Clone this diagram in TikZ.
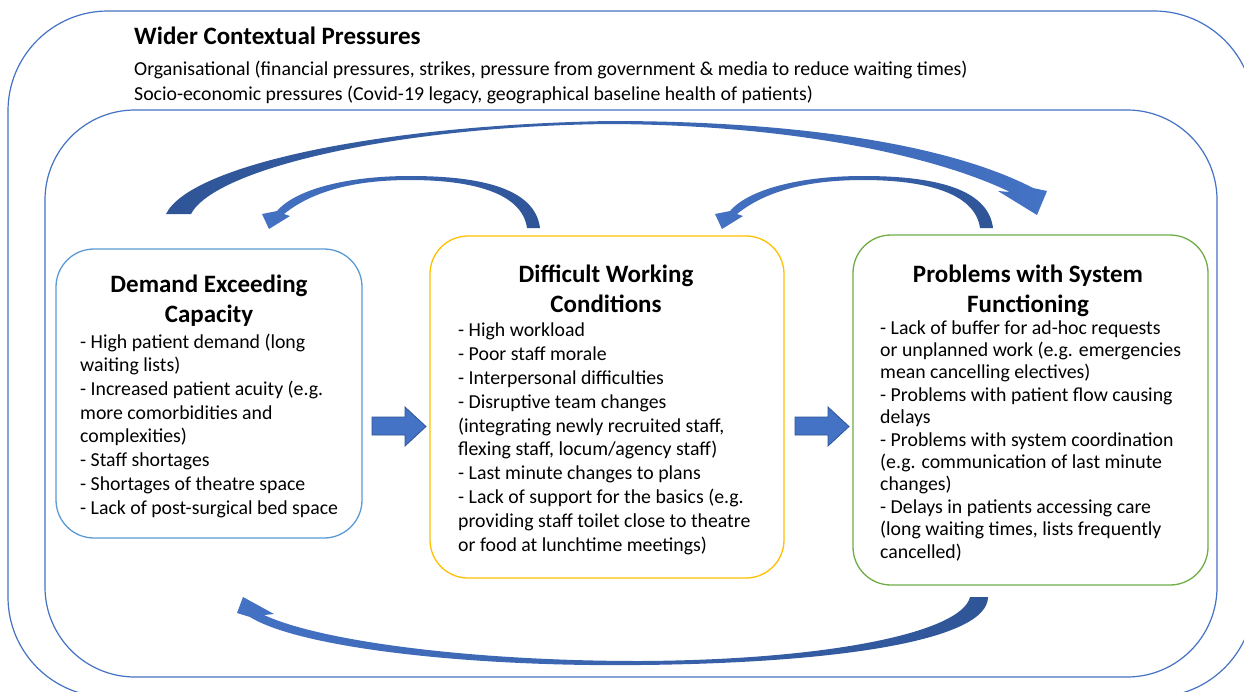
\documentclass[tikz,border=0pt]{standalone}
\usepackage{fontspec}
\setmainfont{Carlito}
\definecolor{frame}{HTML}{4472C4}
\definecolor{adark}{HTML}{2F5597}
\definecolor{alight}{HTML}{4472C4}
\definecolor{boxblue}{HTML}{5B9BD5}
\definecolor{boxyellow}{HTML}{FFC000}
\definecolor{boxgreen}{HTML}{70AD47}
\begin{document}
\begin{tikzpicture}[x=1pt,y=-1pt,
  frameline/.style={draw=frame, line width=1.2pt},
  boxline/.style={line width=1.3pt, rounded corners=38pt, rectangle, inner sep=0pt},
  headtext/.style={font=\fontsize{25}{30.5}\selectfont\bfseries, align=center, inner sep=0pt, anchor=base},
  bodytext/.style={font=\fontsize{19.8}{23.7}\selectfont, align=left, inner sep=0pt, anchor=base west},
  blockarrow/.style={fill=alight, draw=adark, line width=0.8pt, line join=miter},
]
\useasboundingbox (0,0) rectangle (1244,691);
\fill[white] (0,0) rectangle (1244,691);

% frames
\draw[frameline, rounded corners=100pt] (8,11) rectangle (1254,697);
\draw[frameline, rounded corners=90pt] (45,110) rectangle (1217,677);

% title block
\node[font=\fontsize{25}{30}\selectfont\bfseries, inner sep=0pt, anchor=base west] (title) at (134,44) {Wider Contextual Pressures};
\node[bodytext] (org) at (134,75) {Organisational (financial pressures, strikes, pressure from government \& media to reduce waiting times)};
\node[bodytext] (soc) at (134,100) {Socio-economic pressures (Covid-19 legacy, geographical baseline health of patients)};

% boxes
\node[draw=boxblue, boxline, minimum width=306pt, minimum height=289pt] (dec) at (209,393.5) {};
\node[draw=boxyellow, boxline, minimum width=354pt, minimum height=342pt] (dwc) at (607,407) {};
\node[draw=boxgreen, boxline, minimum width=355pt, minimum height=350pt] (psf) at (1030.5,410) {};

% headings (anchor = baseline of last line)
\node[headtext] (dech) at (209,322.5) {Demand Exceeding\\Capacity};
\node[headtext] (dwch) at (606,312.5) {Difficult Working\\Conditions};
\node[headtext] (psfh) at (1028,312.5) {Problems with System\\Functioning};

% bodies (anchor = baseline of last line)
\node[bodytext] (decb) at (80,514) {- High patient demand (long\\
waiting lists)\\
- Increased patient acuity (e.g.\\
more comorbidities and\\
complexities)\\
- Staff shortages\\
- Shortages of theatre space\\
- Lack of post-surgical bed space};

\node[bodytext, font=\fontsize{19.8}{23.8}\selectfont] (dwcb) at (458,551) {- High workload\\
- Poor staff morale\\
- Interpersonal difficulties\\
- Disruptive team changes\\
(integrating newly recruited staff,\\
flexing staff, locum/agency staff)\\
- Last minute changes to plans\\
- Lack of support for the basics (e.g.\\
providing staff toilet close to theatre\\
or food at lunchtime meetings)};

\node[bodytext, font=\fontsize{19.8}{22.4}\selectfont] (psfb) at (880,558) {- Lack of buffer for ad-hoc requests\\
or unplanned work (e.g. emergencies\\
mean cancelling electives)\\
- Problems with patient flow causing\\
delays\\
- Problems with system coordination\\
(e.g. communication of last minute\\
changes)\\
- Delays in patients accessing care\\
(long waiting times, lists frequently\\
cancelled)};

% straight block arrows
\path[blockarrow] (372,417) -- (405,417) -- (405,407) -- (426,426.5) -- (405,446) -- (405,435) -- (372,435) -- cycle;
\path[blockarrow] (795,417) -- (828,417) -- (828,407) -- (849,426.5) -- (828,446) -- (828,435) -- (795,435) -- cycle;

% big top curved arrow
\path[left color=adark, right color=alight]
 (166,214) .. controls (190,165) and (380,125) .. (610,121)
 .. controls (800,121) and (950,145) .. (1033,188)
 -- (1047,191) -- (1037,215) -- (998,191) -- (1010,192)
 .. controls (940,158) and (800,125) .. (610,124)
 .. controls (400,126) and (215,168) .. (191,214) -- cycle;

% middle-left curved arrow
\path[left color=alight, right color=adark]
 (540,228) .. controls (535,188) and (480,176) .. (410,176)
 .. controls (345,176) and (295,190) .. (277,211)
 -- (262,214) -- (269,229) -- (290,216) -- (284,214)
 .. controls (310,193) and (350,180) .. (410,180)
 .. controls (470,180) and (522,192) .. (527,228) -- cycle;

% middle-right curved arrow
\begin{scope}[shift={(453,0)}]
\path[left color=alight, right color=adark]
 (540,228) .. controls (535,188) and (480,176) .. (410,176)
 .. controls (345,176) and (295,190) .. (277,211)
 -- (262,214) -- (269,229) -- (290,216) -- (284,214)
 .. controls (310,193) and (350,180) .. (410,180)
 .. controls (470,180) and (522,192) .. (527,228) -- cycle;
\end{scope}

% bottom curved arrow
\path[left color=alight, right color=adark]
 (988,597) .. controls (988,640) and (840,663) .. (640,665)
 .. controls (470,667) and (300,648) .. (250,617)
 -- (237,613) -- (243,597) -- (274,614) -- (264,615)
 .. controls (320,641) and (470,661) .. (640,661)
 .. controls (830,660) and (962,632) .. (970,597) -- cycle;
\end{tikzpicture}
\end{document}
